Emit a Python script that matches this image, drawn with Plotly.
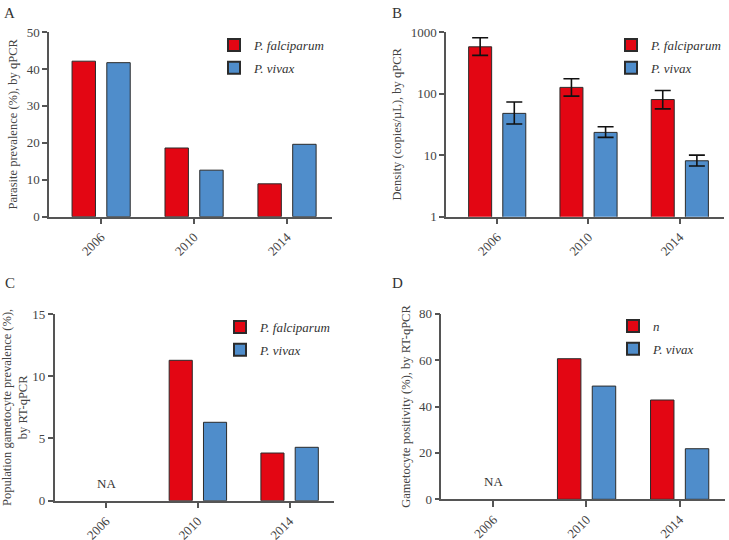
import plotly.graph_objects as go

years = ["2006", "2010", "2014"]

# Panel A: parasite prevalence (%) by qPCR
prev_pf = [42.1, 18.6, 8.9]
prev_pv = [41.7, 12.6, 19.6]

# Panel B: density (copies/uL) by qPCR, with asymmetric error bars
dens_pf = [575, 126, 80]
dens_pf_hi = [805, 174, 112]
dens_pf_lo = [417, 91, 56.5]
dens_pv = [47.7, 23.4, 8.1]
dens_pv_hi = [72.8, 28.9, 10.0]
dens_pv_lo = [32.0, 19.4, 6.65]

# Panel C: population gametocyte prevalence (%) by RT-qPCR
gam_pf = [None, 11.28, 3.83]
gam_pv = [None, 6.3, 4.29]

# Panel D: gametocyte positivity (%) by RT-qPCR
pos_pf = [None, 60.6, 42.8]
pos_pv = [None, 48.8, 21.8]

RED = "#E30613"
BLUE = "#4F8DCB"
OUTLINE = "#2b2b2b"
FONT = "Liberation Serif"
TXT = "#444444"
AX = "#555555"

W, H = 729, 540
fig = go.Figure()

def px_x(p):
    return p / W

def px_y(p):
    return 1 - p / H

panels = {
    "A": dict(x=(49, 332), y=(32, 216.7)),
    "B": dict(x=(446, 724), y=(32, 216.7)),
    "C": dict(x=(54.7, 334), y=(314, 500.7)),
    "D": dict(x=(441.3, 724.7), y=(313.7, 499.3)),
}

def add_pair(idx, pf, pv, legend, name1, errs=None):
    xa = "x" if idx == 1 else f"x{idx}"
    ya = "y" if idx == 1 else f"y{idx}"
    e1 = e2 = None
    if errs:
        e1 = dict(type="data", symmetric=False,
                  array=[h - v for h, v in zip(errs[0], pf)],
                  arrayminus=[v - l for l, v in zip(errs[1], pf)],
                  color="#111111", thickness=1.6, width=8)
        e2 = dict(type="data", symmetric=False,
                  array=[h - v for h, v in zip(errs[2], pv)],
                  arrayminus=[v - l for l, v in zip(errs[3], pv)],
                  color="#111111", thickness=1.6, width=8)
    fig.add_trace(go.Bar(x=years, y=pf, name=f"<i>{name1}</i>", xaxis=xa, yaxis=ya,
                         marker=dict(color=RED, line=dict(color=OUTLINE, width=1)),
                         offset=-0.312, width=0.252, legend=legend, error_y=e1,
                         legendgroup=f"{legend}a"))
    fig.add_trace(go.Bar(x=years, y=pv, name="<i>P. vivax</i>", xaxis=xa, yaxis=ya,
                         marker=dict(color=BLUE, line=dict(color=OUTLINE, width=1)),
                         offset=0.062, width=0.252, legend=legend, error_y=e2,
                         legendgroup=f"{legend}b"))

add_pair(1, prev_pf, prev_pv, "legend", "P. falciparum")
add_pair(2, dens_pf, dens_pv, "legend2", "P. falciparum",
         errs=(dens_pf_hi, dens_pf_lo, dens_pv_hi, dens_pv_lo))
add_pair(3, gam_pf, gam_pv, "legend3", "P. falciparum")
add_pair(4, pos_pf, pos_pv, "legend4", "n")

tickfont = dict(family=FONT, size=13, color=TXT)
titlefont = dict(family=FONT, size=12.5, color=TXT)

def xaxis(p):
    x0, x1 = panels[p]["x"]
    return dict(domain=[px_x(x0), px_x(x1)], type="category", automargin=False,
                range=[-0.56, 2.485], showline=True, linecolor=AX, linewidth=1.5,
                ticks="outside", ticklen=6, tickwidth=1.5, tickcolor=AX,
                tickangle=-45, tickfont=tickfont, showgrid=False, zeroline=False,
                fixedrange=True)

def yaxis(p, anchor, title, **kw):
    y0, y1 = panels[p]["y"]
    d = dict(domain=[px_y(y1), px_y(y0)], anchor=anchor, showline=True,
             automargin=False,
             linecolor=AX, linewidth=1.5, ticks="outside", ticklen=5,
             tickwidth=1.5, tickcolor=AX, tickfont=tickfont, showgrid=False,
             zeroline=False, title=dict(text=title, font=titlefont, standoff=6))
    d.update(kw)
    return d

fig.update_layout(
    template="none",
    width=W, height=H, margin=dict(l=0, r=0, t=0, b=0, autoexpand=False),
    paper_bgcolor="white", plot_bgcolor="white", barmode="overlay",
    font=dict(family=FONT, color=TXT),
    xaxis=dict(**xaxis("A"), anchor="y"),
    xaxis2=dict(**xaxis("B"), anchor="y2"),
    xaxis3=dict(**xaxis("C"), anchor="y3"),
    xaxis4=dict(**xaxis("D"), anchor="y4"),
    yaxis=yaxis("A", "x", "Parasite prevalence (%), by qPCR",
                range=[0, 50], tickvals=[0, 10, 20, 30, 40, 50]),
    yaxis2=yaxis("B", "x2", "Density (copies/µL), by qPCR",
                 type="log", range=[0, 3], tickvals=[1, 10, 100, 1000],
                 ticktext=["1", "10", "100", "1000"]),
    yaxis3=yaxis("C", "x3", "Population gametocyte prevalence (%),<br>by RT-qPCR",
                 range=[0, 15], tickvals=[0, 5, 10, 15]),
    yaxis4=yaxis("D", "x4", "Gametocyte positivity (%), by RT-qPCR",
                 range=[0, 80], tickvals=[0, 20, 40, 60, 80]),
)

legfont = dict(family=FONT, size=13, color="#333333")
def leg(xp, yp):
    return dict(x=px_x(xp), y=px_y(yp), xanchor="left", yanchor="top",
                bgcolor="rgba(0,0,0,0)", font=legfont, tracegroupgap=3,
                itemsizing="constant", itemwidth=30)

fig.update_layout(
    legend=leg(214, 30),
    legend2=leg(611, 30),
    legend3=leg(220, 312),
    legend4=leg(613, 311),
)

# panel letters
for letter, (xp, yp) in {"A": (2, 3), "B": (390, 3), "C": (3, 273), "D": (390, 273)}.items():
    fig.add_annotation(text=letter, x=px_x(xp), y=px_y(yp), xref="paper", yref="paper",
                       xanchor="left", yanchor="top", showarrow=False,
                       font=dict(family=FONT, size=15, color="#333333"))

# NA labels (category index of 2006)
na_idx = years.index("2006")
for xa, ya in (("x3", "y3"), ("x4", "y4")):
    fig.add_annotation(text="NA", x=na_idx, y=0, xref=xa, yref=ya, yanchor="bottom",
                       yshift=8, showarrow=False,
                       font=dict(family=FONT, size=13, color="#333333"))

fig.write_html("out.html", config={"displayModeBar": False},
               post_script="document.body.style.margin='0';")
